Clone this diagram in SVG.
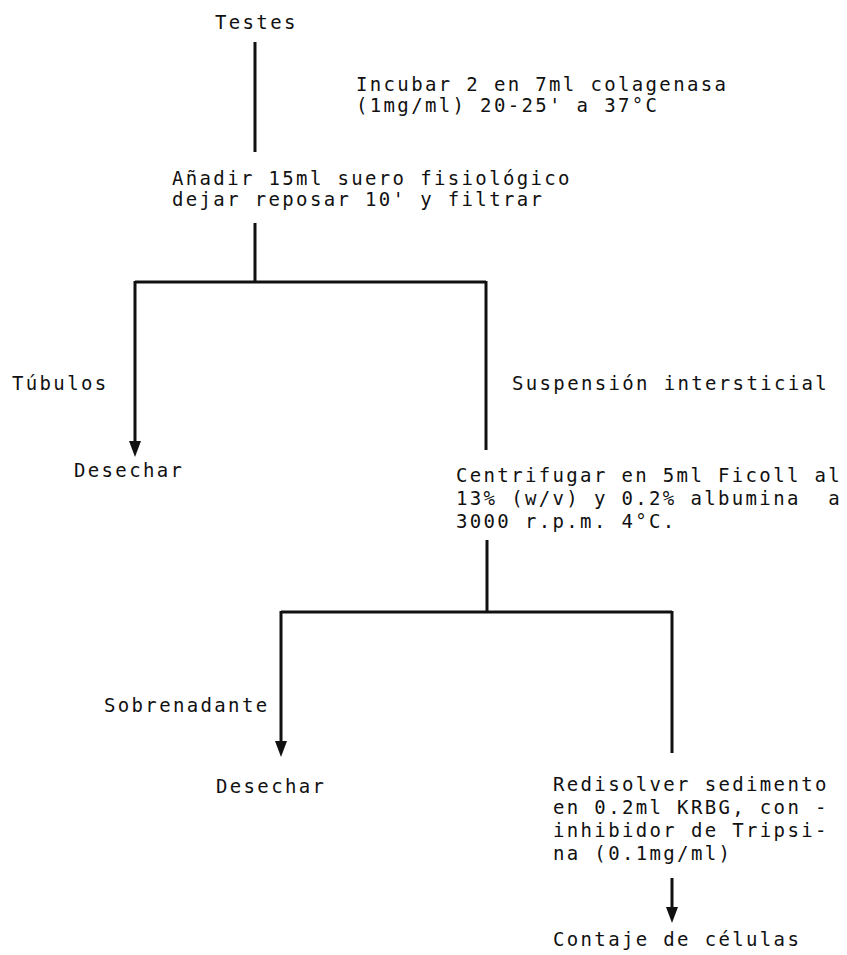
<svg xmlns="http://www.w3.org/2000/svg" width="847" height="955" viewBox="0 0 847 955">
<style>
text{font-family:"DejaVu Sans Mono","Liberation Mono",monospace;font-size:19px;letter-spacing:2.35px;fill:#111;white-space:pre}
.ln{stroke:#111;stroke-width:3;fill:none}
</style>
<defs>
<marker id="ah" markerWidth="16" markerHeight="12" refX="2" refY="6" orient="auto" markerUnits="userSpaceOnUse" viewBox="0 0 16 12">
<path d="M0,0 L16,6 L0,12 Z" fill="#111"/>
</marker>
</defs>
<rect width="847" height="955" fill="#fff"/>
<g id="connectors">
<line class="ln" x1="255" y1="42" x2="255" y2="152"/>
<line class="ln" x1="255" y1="223" x2="255" y2="282"/>
<polyline class="ln" points="135,282 486,282"/>
<line class="ln" x1="135" y1="281" x2="135" y2="443" marker-end="url(#ah)"/>
<line class="ln" x1="486" y1="281" x2="486" y2="450"/>
<line class="ln" x1="487" y1="540" x2="487" y2="612"/>
<polyline class="ln" points="281,612 672,612"/>
<line class="ln" x1="281" y1="611" x2="281" y2="743" marker-end="url(#ah)"/>
<line class="ln" x1="672" y1="611" x2="672" y2="753"/>
<line class="ln" x1="672" y1="878" x2="672" y2="909" marker-end="url(#ah)"/>
</g>
<g id="testes"><text x="215" y="29">Testes</text></g>
<g id="incubar"><text x="356" y="91">Incubar 2 en 7ml colagenasa</text><text x="356" y="112">(1mg/ml) 20-25' a 37°C</text></g>
<g id="anadir"><text x="172" y="185">Añadir 15ml suero fisiológico</text><text x="172" y="206">dejar reposar 10' y filtrar</text></g>
<g id="tubulos"><text x="12" y="390">Túbulos</text></g>
<g id="suspension"><text x="512" y="390">Suspensión intersticial</text></g>
<g id="desechar1"><text x="74" y="477">Desechar</text></g>
<g id="centrifugar"><text x="456" y="482">Centrifugar en 5ml Ficoll al</text><text x="456" y="505" xml:space="preserve">13% (w/v) y 0.2% albumina  a</text><text x="456" y="528">3000 r.p.m. 4°C.</text></g>
<g id="sobrenadante"><text x="104" y="712">Sobrenadante</text></g>
<g id="desechar2"><text x="216" y="793">Desechar</text></g>
<g id="redisolver"><text x="553" y="791">Redisolver sedimento</text><text x="553" y="814">en 0.2ml KRBG, con -</text><text x="553" y="837">inhibidor de Tripsi-</text><text x="553" y="860">na (0.1mg/ml)</text></g>
<g id="contaje"><text x="553" y="946">Contaje de células</text></g>
</svg>
